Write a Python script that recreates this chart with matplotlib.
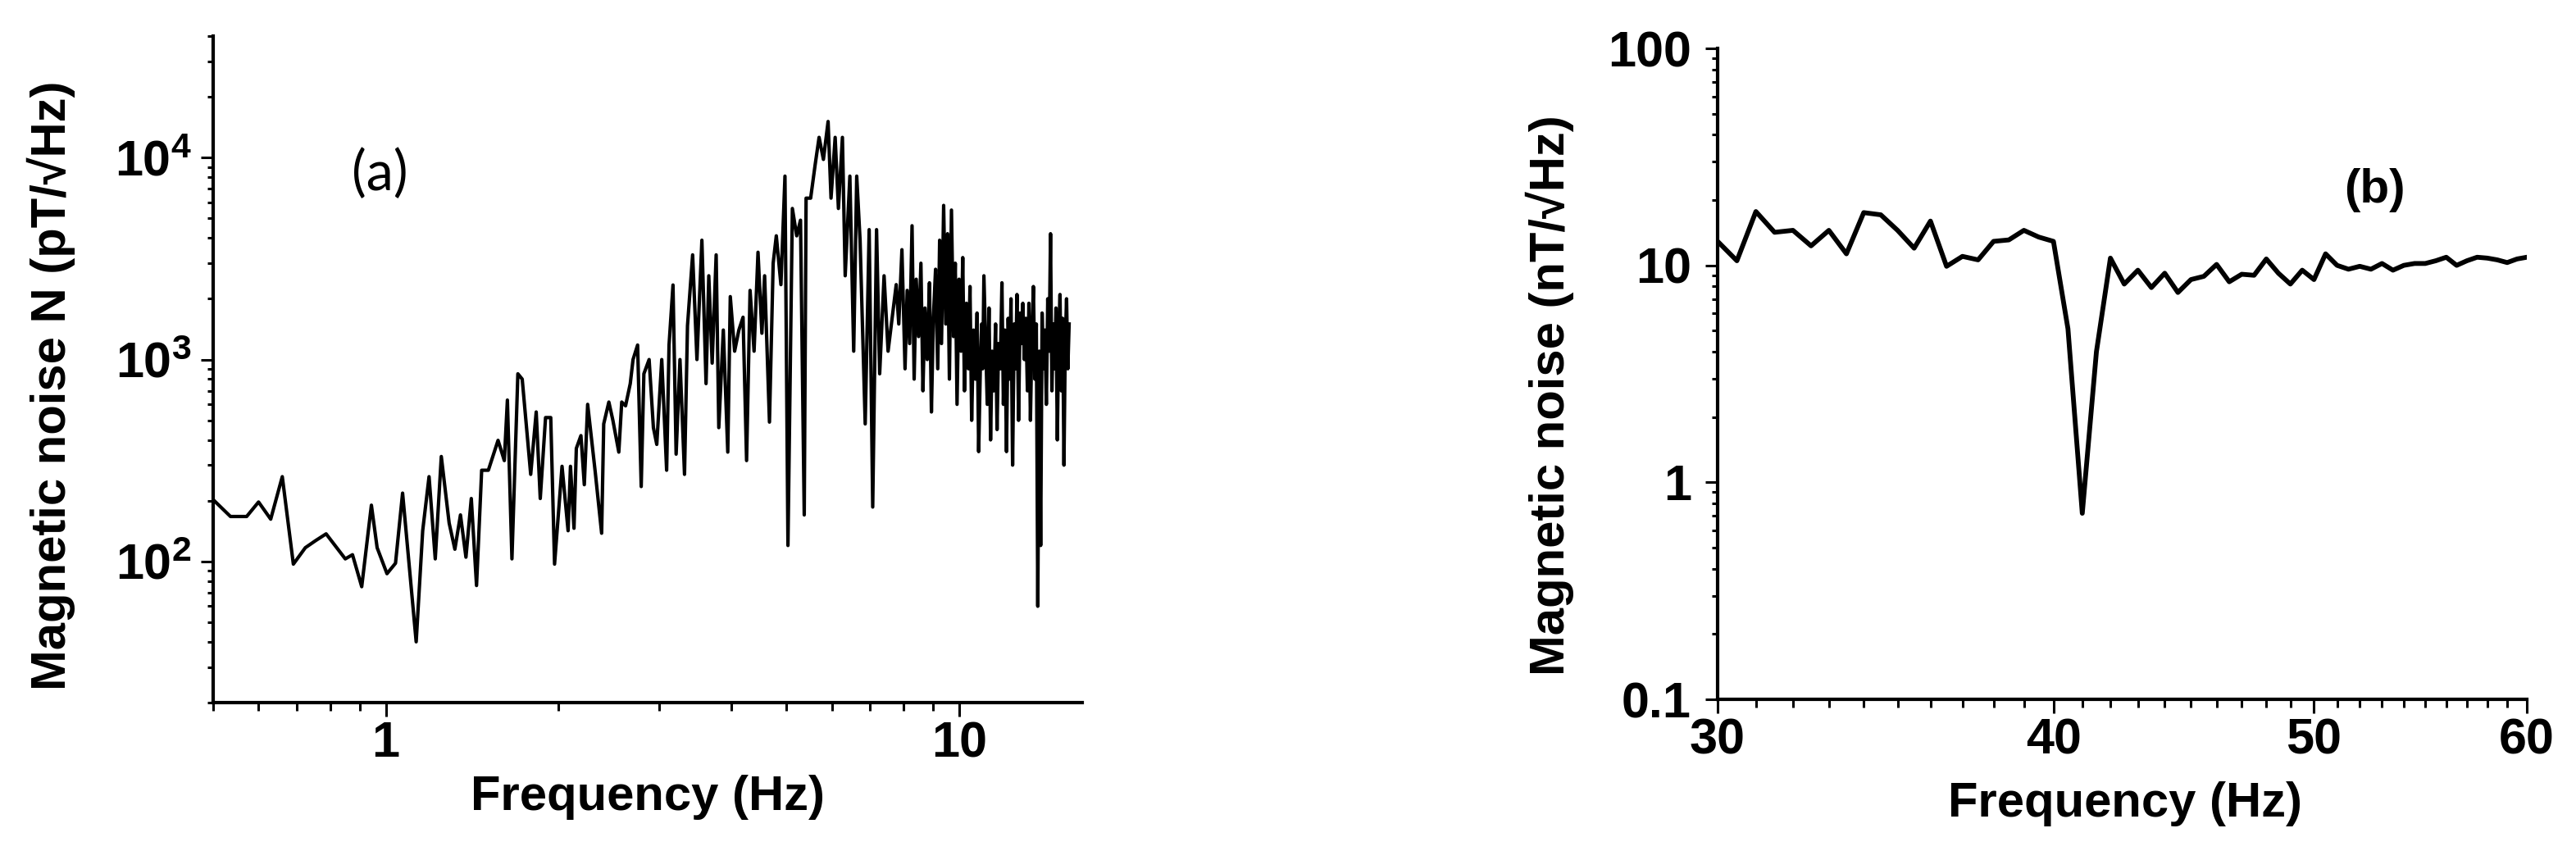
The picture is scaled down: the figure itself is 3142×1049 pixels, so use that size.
import numpy as np
import matplotlib
matplotlib.use("Agg")
import matplotlib.pyplot as plt
from matplotlib.ticker import FixedLocator, NullFormatter, FixedFormatter

plt.rcParams['font.family'] = ['Liberation Sans', 'DejaVu Sans']
plt.rcParams['mathtext.fontset'] = 'custom'
plt.rcParams['mathtext.rm'] = 'Liberation Sans'
plt.rcParams['mathtext.bf'] = 'Liberation Sans:bold'

# ---------------- data: panel (a) ----------------
freq_a = [0.503, 0.536, 0.572, 0.600, 0.630, 0.660, 0.690, 0.724, 0.755, 0.787,
          0.850, 0.875, 0.908, 0.944, 0.966, 1.005, 1.04, 1.07, 1.13, 1.16,
          1.19, 1.22, 1.25, 1.29, 1.32, 1.35, 1.38, 1.41, 1.44, 1.47,
          1.51, 1.57, 1.61, 1.63, 1.66, 1.70, 1.73, 1.79, 1.83, 1.86,
          1.90, 1.94, 1.97, 2.03, 2.08, 2.10, 2.13, 2.15, 2.19, 2.22,
          2.25, 2.32, 2.38, 2.40, 2.45, 2.49, 2.55, 2.58, 2.62, 2.67,
          2.70, 2.75, 2.79, 2.82, 2.88, 2.93, 2.97, 3.03, 3.09, 3.12,
          3.17, 3.21, 3.26, 3.32, 3.36, 3.43, 3.49, 3.56, 3.62, 3.66,
          3.71, 3.77, 3.81, 3.88, 3.95, 3.99, 4.06, 4.13, 4.20, 4.26,
          4.32, 4.39, 4.46, 4.53, 4.58, 4.67, 4.74, 4.80, 4.89, 4.97,
          5.03, 5.12, 5.21, 5.29, 5.37, 5.41, 5.51, 5.61, 5.70, 5.80,
          5.91, 5.98, 6.08, 6.16, 6.26, 6.33, 6.45, 6.55, 6.63, 6.72,
          6.86, 6.97, 7.07, 7.18, 7.27, 7.40, 7.52, 7.77, 7.85, 7.95,
          8.05, 8.12, 8.20, 8.28, 8.35, 8.42, 8.50, 8.58, 8.65, 8.72,
          8.80, 8.88, 8.95, 9.02, 9.10, 9.18, 9.25, 9.32, 9.40, 9.48,
          9.55, 9.62, 9.70, 9.78, 9.85, 9.92, 10.00, 10.08, 10.15, 10.22,
          10.30, 10.38, 10.45, 10.52, 10.60, 10.68, 10.75, 10.82, 10.90, 10.95,
          11.00, 11.05, 11.12, 11.20, 11.28, 11.35, 11.42, 11.50, 11.58, 11.65,
          11.72, 11.80, 11.88, 11.95, 12.02, 12.10, 12.18, 12.25, 12.32, 12.40,
          12.48, 12.55, 12.62, 12.70, 12.78, 12.85, 12.92, 13.00, 13.08, 13.16,
          13.24, 13.32, 13.40, 13.48, 13.56, 13.64, 13.72, 13.80, 13.88, 13.96,
          14.04, 14.12, 14.20, 14.28, 14.36, 14.44, 14.52, 14.60, 14.68, 14.76,
          14.84, 14.92, 15.00, 15.08, 15.16, 15.24, 15.32, 15.40, 15.48, 15.56]
noise_a = [199, 167, 167, 197, 162, 263, 97, 117, 127, 137,
           103, 108, 75, 190, 117, 87, 98, 218, 40, 142,
           263, 103, 331, 155, 115, 170, 105, 205, 76, 283,
           283, 398, 316, 630, 103, 850, 800, 270, 550, 205,
           516, 516, 97, 296, 142, 296, 146, 363, 420, 240,
           600, 276, 138, 480, 616, 500, 348, 616, 590, 760,
           1000, 1180, 235, 850, 1000, 460, 380, 1000, 283, 1180,
           2340, 340, 1000, 270, 1470, 3300, 1000, 3900, 760, 2600,
           960, 3300, 460, 1400, 348, 2050, 1100, 1400, 1620, 316,
           2200, 1100, 3400, 1350, 2600, 490, 3000, 4100, 2350, 8100,
           120, 5600, 4100, 4900, 170, 6300, 6300, 9200, 12600, 9800,
           15100, 6300, 12600, 5600, 12600, 2600, 8100, 1100, 8100, 3900,
           480, 4400, 186, 4400, 850, 2600, 1100, 2350, 1500, 3500,
           900, 2200, 1200, 4600, 800, 2500, 1300, 3000, 700, 1800,
           1000, 2400, 550, 1600, 2800, 900, 3900, 1200, 5800, 1500,
           4200, 800, 5500, 1300, 3000, 600, 2500, 1100, 3200, 700,
           1900, 900, 2300, 500, 1400, 800, 1700, 350, 1000, 1500,
           900, 2600, 1300, 600, 1800, 400, 1100, 700, 1500, 450,
           1200, 900, 2400, 600, 1400, 350, 1600, 800, 2000, 300,
           1500, 900, 2100, 500, 1700, 1200, 1900, 1000, 1600, 700,
           1900, 500, 1300, 2300, 800, 1500, 60, 1100, 120, 1700,
           900, 1400, 600, 2000, 1100, 4200, 700, 1500, 900, 1800,
           400, 1300, 2100, 700, 1600, 300, 1200, 2000, 900, 1500]

# ---------------- data: panel (b) ----------------
freq_b = [30.0, 30.5, 31.0, 31.5, 32.0, 32.5, 33.0, 33.5, 34.0, 34.5,
          35.0, 35.5, 36.0, 36.5, 37.0, 37.5, 38.0, 38.5, 39.0, 39.5,
          40.0, 40.5, 41.0, 41.5, 42.0, 42.5, 43.0, 43.5, 44.0, 44.5,
          45.0, 45.5, 46.0, 46.5, 47.0, 47.5, 48.0, 48.5, 49.0, 49.5,
          50.0, 50.5, 51.0, 51.5, 52.0, 52.5, 53.0, 53.5, 54.0, 54.5,
          55.0, 55.5, 56.0, 56.5, 57.0, 57.5, 58.0, 58.5, 59.0, 59.5, 60.0]
noise_b = [12.9, 10.5, 17.7, 14.2, 14.5, 12.3, 14.5, 11.3, 17.5, 17.1,
           14.5, 12.0, 16.0, 9.9, 11.0, 10.6, 12.9, 13.1, 14.5, 13.5,
           12.9, 5.1, 0.72, 4.0, 10.8, 8.2, 9.5, 7.9, 9.2, 7.5,
           8.6, 8.9, 10.1, 8.4, 9.1, 9.0, 10.7, 9.2, 8.2, 9.5,
           8.6, 11.3, 10.0, 9.6, 9.9, 9.6, 10.2, 9.5, 10.0, 10.2,
           10.2, 10.5, 10.9, 10.0, 10.5, 10.9, 10.8, 10.6, 10.3, 10.7, 10.9]

# ticks
a_xmajor = [1, 10]
a_xlabels = ['1', '10']
a_xminor = [0.5, 0.6, 0.7, 0.8, 0.9, 2, 3, 4, 5, 6, 7, 8, 9]
a_ymajor = [1e2, 1e3, 1e4]
a_ylabels = [r'$\mathbf{10^{2}}$', r'$\mathbf{10^{3}}$', r'$\mathbf{10^{4}}$']
a_yminor = [m * d for d in (10, 100, 1000, 10000) for m in range(2, 10)]

b_xmajor = [30, 40, 50, 60]
b_xlabels = ['30', '40', '50', '60']
b_xminor = list(range(31, 40)) + list(range(41, 50)) + list(range(51, 60))
b_ymajor = [0.1, 1, 10, 100]
b_ylabels = ['0.1', '1', '10', '100']
b_yminor = [m * d for d in (0.1, 1, 10) for m in range(2, 10)]

W, H = 3142, 1049
fig = plt.figure(figsize=(W / 100, H / 100), dpi=100)

def px_axes(l, r, t, b):
    return fig.add_axes([l / W, 1 - b / H, (r - l) / W, (b - t) / H])

TICKFS = 44
LABFS = 43

def style(ax):
    for s in ('top', 'right'):
        ax.spines[s].set_visible(False)
    for s in ('left', 'bottom'):
        ax.spines[s].set_linewidth(3)
    ax.tick_params(which='both', direction='out', width=2.2, labelsize=TICKFS)
    ax.tick_params(axis='x', which='major', length=12, pad=4)
    ax.tick_params(axis='x', which='minor', length=7)
    ax.tick_params(axis='y', which='major', length=11)
    ax.tick_params(axis='y', which='minor', length=5)
    for lab in ax.get_xticklabels() + ax.get_yticklabels():
        lab.set_fontweight('bold')

# ---- panel (a)
ax1 = px_axes(260, 1320, 44, 857)
ax1.plot(freq_a, noise_a, color='black', lw=3.0)
ax1.set_xscale('log')
ax1.set_yscale('log')
ax1.set_xlim(0.5, 16.4)
ax1.set_ylim(20, 4e4)
ax1.xaxis.set_major_locator(FixedLocator(a_xmajor))
ax1.xaxis.set_major_formatter(FixedFormatter(a_xlabels))
ax1.xaxis.set_minor_locator(FixedLocator(a_xminor))
ax1.xaxis.set_minor_formatter(NullFormatter())
ax1.yaxis.set_major_locator(FixedLocator(a_ymajor))
ax1.yaxis.set_major_formatter(FixedFormatter(a_ylabels))
ax1.yaxis.set_minor_locator(FixedLocator(a_yminor))
ax1.yaxis.set_minor_formatter(NullFormatter())
style(ax1)
ax1.tick_params(axis='y', which='major', pad=8)
ax1.set_xlabel('Frequency (Hz)', fontsize=LABFS, fontweight='bold')
ax1.set_ylabel('Magnetic noise N (pT/\u221aHz)', fontsize=LABFS, fontweight='bold')
ax1.xaxis.set_label_coords(790 / W, 1 - 945 / H, transform=fig.transFigure)
ax1.yaxis.set_label_coords(92 / W, 1 - 470 / H, transform=fig.transFigure)
ax1.text(463 / W, 1 - 213 / H, '(a)', transform=fig.transFigure, ha='center', va='center',
         fontsize=48, family=['Lato', 'DejaVu Sans'])

# ---- panel (b)
ax2 = px_axes(2095, 3082, 59, 853)
ax2.plot(freq_b, noise_b, color='black', lw=4.2)
ax2.set_xscale('log')
ax2.set_yscale('log')
ax2.set_xlim(30, 60)
ax2.set_ylim(0.1, 100)
ax2.xaxis.set_major_locator(FixedLocator(b_xmajor))
ax2.xaxis.set_major_formatter(FixedFormatter(b_xlabels))
ax2.xaxis.set_minor_locator(FixedLocator(b_xminor))
ax2.xaxis.set_minor_formatter(NullFormatter())
ax2.yaxis.set_major_locator(FixedLocator(b_ymajor))
ax2.yaxis.set_major_formatter(FixedFormatter(b_ylabels))
ax2.yaxis.set_minor_locator(FixedLocator(b_yminor))
ax2.yaxis.set_minor_formatter(NullFormatter())
style(ax2)
ax2.tick_params(axis='y', which='major', pad=12)
ax2.set_xlabel('Frequency (Hz)', fontsize=LABFS, fontweight='bold')
ax2.set_ylabel('Magnetic noise (nT/\u221aHz)', fontsize=LABFS, fontweight='bold')
ax2.xaxis.set_label_coords(2592 / W, 1 - 953 / H, transform=fig.transFigure)
ax2.yaxis.set_label_coords(1920 / W, 1 - 482 / H, transform=fig.transFigure)
ax2.text(2896 / W, 1 - 232 / H, '(b)', transform=fig.transFigure, ha='center', va='center',
         fontsize=42, fontweight='bold')

fig.savefig('out.png', dpi=100)
